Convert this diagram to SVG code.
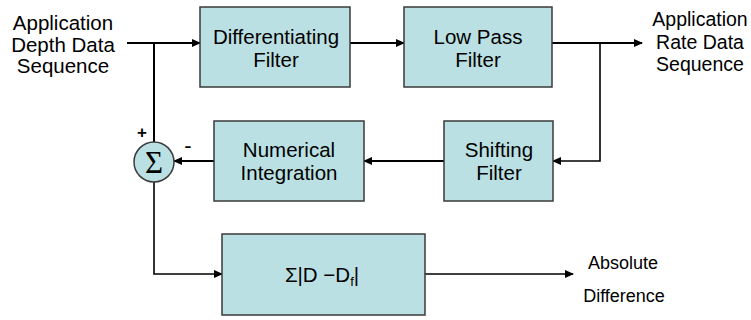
<svg xmlns="http://www.w3.org/2000/svg" width="751" height="320" viewBox="0 0 751 320">
  <defs>
    <marker id="arrow" markerWidth="9" markerHeight="8" refX="8" refY="4" orient="auto" markerUnits="userSpaceOnUse">
      <path d="M0,0 L9,4 L0,8 Z" fill="#000"/>
    </marker>
    <style>
      .box { fill: #BBE0E3; stroke: #3a3a3a; stroke-width: 1.5; }
      .lbl { font-family: "Liberation Sans", Arial, sans-serif; font-size: 20.5px; fill: #000; text-anchor: middle; }
      .wire { fill: none; stroke: #000; stroke-width: 2; }
      .thin { fill: none; stroke: #000; stroke-width: 1.6; }
      .sigma { font-family: "Liberation Serif", "Times New Roman", serif; font-size: 31px; fill: #000; text-anchor: middle; }
    </style>
  </defs>
  <rect width="751" height="320" fill="#fff"/>

  <!-- connectors -->
  <g id="connectors">
    <path class="wire" d="M127,43 H200" marker-end="url(#arrow)"/>
    <path class="wire" d="M154,43 V142"/>
    <path class="wire" d="M350,43 H404" marker-end="url(#arrow)"/>
    <path class="wire" d="M552,43 H642" marker-end="url(#arrow)"/>
    <path class="thin" d="M600,43 V161 H553" marker-end="url(#arrow)"/>
    <path class="wire" d="M444,161 H364" marker-end="url(#arrow)"/>
    <path class="wire" d="M214,161 H174" marker-end="url(#arrow)"/>
    <path class="thin" d="M154,182 V274 H222" marker-end="url(#arrow)"/>
    <path class="thin" d="M425,274 H573" marker-end="url(#arrow)"/>
  </g>

  <!-- input / output labels -->
  <g id="input-label">
    <text class="lbl" x="63" y="30">Application</text>
    <text class="lbl" x="63" y="51.5">Depth Data</text>
    <text class="lbl" x="63" y="73">Sequence</text>
  </g>
  <g id="output-label">
    <text class="lbl" x="700" y="26" style="font-size:19.5px">Application</text>
    <text class="lbl" x="700" y="48.5" style="font-size:19.5px">Rate Data</text>
    <text class="lbl" x="700" y="71" style="font-size:19.5px">Sequence</text>
  </g>

  <g id="differentiating-filter">
    <rect class="box" x="200" y="7" width="150" height="80"/>
    <text class="lbl" x="276" y="43.5">Differentiating</text>
    <text class="lbl" x="276" y="67">Filter</text>
  </g>

  <g id="low-pass-filter">
    <rect class="box" x="404" y="7" width="148" height="80"/>
    <text class="lbl" x="478" y="43.5">Low Pass</text>
    <text class="lbl" x="478" y="67">Filter</text>
  </g>

  <g id="shifting-filter">
    <rect class="box" x="444" y="121" width="109" height="80"/>
    <text class="lbl" x="499" y="156.5">Shifting</text>
    <text class="lbl" x="499" y="180">Filter</text>
  </g>

  <g id="numerical-integration">
    <rect class="box" x="214" y="121" width="150" height="80"/>
    <text class="lbl" x="289" y="156.5">Numerical</text>
    <text class="lbl" x="289" y="180">Integration</text>
  </g>

  <g id="summing-junction">
    <circle cx="154" cy="162" r="20" fill="#BBE0E3" stroke="#3a3a3a" stroke-width="1.5"/>
    <text class="sigma" x="154" y="172.5">Σ</text>
    <text x="142" y="138" text-anchor="middle" font-family="Liberation Sans, Arial, sans-serif" font-size="17" font-weight="bold">+</text>
    <text x="188" y="153" text-anchor="middle" font-family="Liberation Sans, Arial, sans-serif" font-size="22">-</text>
  </g>

  <g id="absolute-difference">
    <rect class="box" x="222" y="234" width="203" height="81"/>
    <text class="lbl" x="322" y="282">Σ|D −D<tspan font-size="13" dy="4">f</tspan><tspan dy="-4">|</tspan></text>
  </g>

  <g id="result-label">
    <text class="lbl" x="623" y="269" style="font-size:18px">Absolute</text>
    <text class="lbl" x="624" y="302" style="font-size:18px">Difference</text>
  </g>
</svg>
